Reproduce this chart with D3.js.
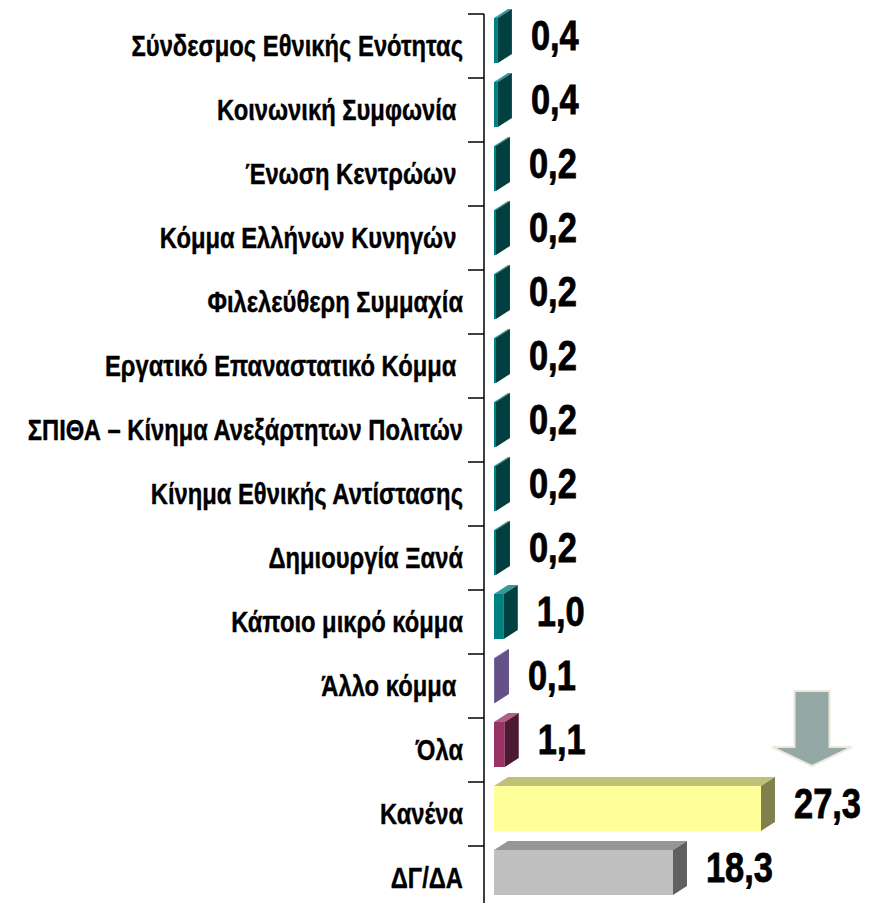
<!DOCTYPE html>
<html>
<head>
<meta charset="utf-8">
<script src="https://cdn.jsdelivr.net/npm/d3@7"></script>
<style>
  body { margin: 0; background: #fff; }
  text { font-family: "Liberation Sans", Arial, sans-serif; font-weight: bold; white-space: pre; }
</style>
</head>
<body>
<svg id="chart" width="869" height="903"></svg>
<script>
var parties = [
  "Σύνδεσμος Εθνικής Ενότητας",
  "Κοινωνική Συμφωνία ",
  "Ένωση Κεντρώων ",
  "Κόμμα Ελλήνων Κυνηγών ",
  "Φιλελεύθερη Συμμαχία",
  "Εργατικό Επαναστατικό Κόμμα ",
  "ΣΠΙΘΑ – Κίνημα Ανεξάρτητων Πολιτών",
  "Κίνημα Εθνικής Αντίστασης",
  "Δημιουργία Ξανά",
  "Κάποιο μικρό κόμμα",
  "Άλλο κόμμα ",
  "Όλα",
  "Κανένα",
  "ΔΓ/ΔΑ"
];
var values = [0.4, 0.4, 0.2, 0.2, 0.2, 0.2, 0.2, 0.2, 0.2, 1.0, 0.1, 1.1, 27.3, 18.3];
var highlighted = "Κανένα";

// front / top / side colours
var teal = ["#008080", "#339999", "#004040"];
var palette = [teal, teal, teal, teal, teal, teal, teal, teal, teal, teal,
  ["#7a68a0", "#9a8abb", "#65518a"],
  ["#993366", "#b36088", "#4d1a33"],
  ["#ffff99", "#c0c078", "#80804d"],
  ["#c0c0c0", "#969696", "#606060"]];

var svg = d3.select("#chart");
var depthX = 14, depthY = 9, barH = 45;
var narrow = 0.82; // text looks like Arial Narrow

var y = d3.scaleBand().domain(parties).range([14, 14 + 64 * parties.length]);
var x = d3.scaleLinear().domain([0, 30]).range([494, 494 + 30 * 9.78]);
var fmt = function(v) { return d3.format(".1f")(v).replace(".", ","); };

// axis line and ticks at band boundaries
svg.append("line")
  .attr("x1", 484).attr("x2", 484).attr("y1", y.range()[0]).attr("y2", 903)
  .attr("stroke", "#000").attr("stroke-width", 1.5);
svg.selectAll("line.tick").data(parties).enter().append("line")
  .attr("class", "tick")
  .attr("x1", 468).attr("x2", 484)
  .attr("y1", function(d) { return y(d); }).attr("y2", function(d) { return y(d); })
  .attr("stroke", "#000").attr("stroke-width", 1.5);

// category labels
svg.selectAll("text.cat").data(parties).enter().append("text")
  .attr("class", "cat")
  .attr("transform", function(d) {
    return "translate(463," + (y(d) + y.bandwidth() / 2) + ") scale(" + narrow + ",1)";
  })
  .attr("dy", "0.36em")
  .attr("text-anchor", "end")
  .attr("font-size", 29)
  .attr("stroke", "#000").attr("stroke-width", 0.4)
  .text(function(d) { return d; });

// 3d bars
var bars = svg.selectAll("g.bar").data(parties).enter().append("g").attr("class", "bar");

bars.each(function(d, i) {
  var g = d3.select(this);
  var x0 = x(0), x1 = x(values[i]), yf = y(d) + 4;
  var c = palette[i];
  g.append("rect").attr("x", x0).attr("y", yf).attr("width", Math.max(x1 - x0, 1)).attr("height", barH)
    .attr("fill", c[0]);
  g.append("path")
    .attr("d", "M" + x0 + "," + yf + "L" + (x0 + depthX) + "," + (yf - depthY) + "L" + (x1 + depthX) + "," + (yf - depthY) + "L" + x1 + "," + yf + "Z")
    .attr("fill", c[1]);
  g.append("path")
    .attr("d", "M" + x1 + "," + yf + "L" + (x1 + depthX) + "," + (yf - depthY) + "L" + (x1 + depthX) + "," + (yf + barH - depthY) + "L" + x1 + "," + (yf + barH) + "Z")
    .attr("fill", c[2]);
});

// value labels
svg.selectAll("text.val").data(parties).enter().append("text")
  .attr("class", "val")
  .attr("transform", function(d, i) {
    return "translate(" + (x(values[i]) + depthX + 19) + "," + (y(d) + y.bandwidth() / 2 + 4) + ") scale(" + narrow + ",1)";
  })
  .attr("font-size", 42)
  .attr("stroke", "#000").attr("stroke-width", 0.8)
  .text(function(d, i) { return fmt(values[i]); });

// arrow pointing at the highlighted bar
var hi = parties.indexOf(highlighted);
var ax = x(values[hi]) + 51, tipY = y(highlighted) - 16;
svg.append("path")
  .attr("d", "M" + (ax - 17.5) + "," + (tipY - 75) + "H" + (ax + 17.5) + "V" + (tipY - 19) +
    "H" + (ax + 40) + "L" + ax + "," + tipY + "L" + (ax - 40) + "," + (tipY - 19) + "H" + (ax - 17.5) + "Z")
  .attr("fill", "#94a8a6").attr("stroke", "#ece8da").attr("stroke-width", 2);
</script>
</body>
</html>
